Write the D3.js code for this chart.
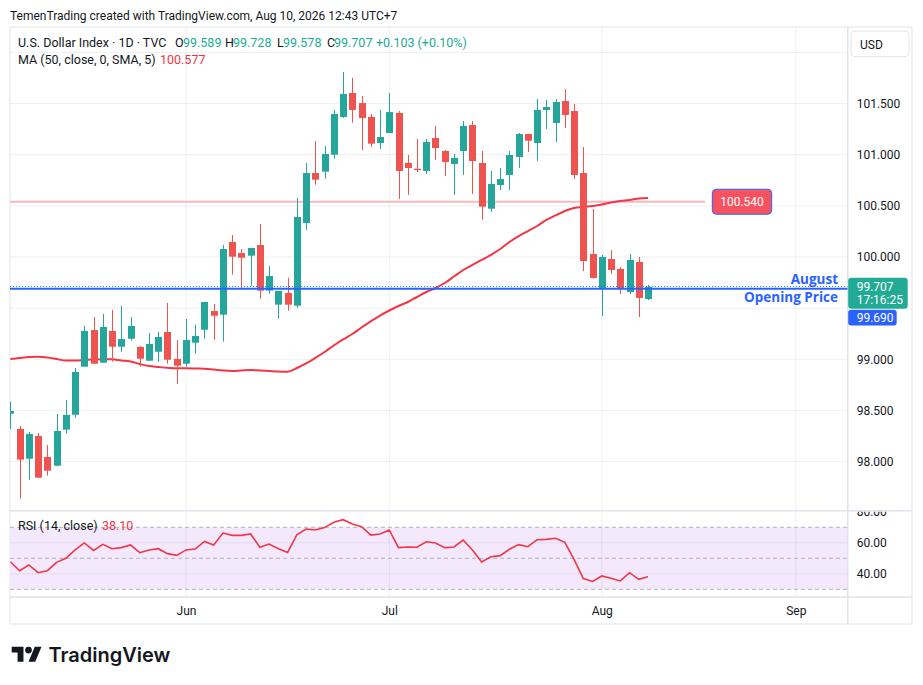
<!DOCTYPE html>
<html>
<head>
<meta charset="utf-8">
<script src="https://cdn.jsdelivr.net/npm/d3@7"></script>
<style>
  html, body { margin: 0; padding: 0; background: #fff; }
  svg { display: block; font-family: Roboto, "Noto Sans", sans-serif; }
</style>
</head>
<body>
<svg id="chart" width="923" height="685"></svg>
<script>
// daily bars, first visible bar = index 0, last bar (Aug 10) = index 69
const opens  = [98.468,98.319,98.028,98.250,98.045,97.960,98.312,98.458,98.928,99.286,
                98.967,99.277,99.123,99.201,99.120,98.986,99.074,99.267,99.003,98.957,
                99.162,99.289,99.472,99.436,100.147,100.039,100.013,100.117,99.671,99.534,
                99.648,99.524,100.332,100.821,100.834,101.000,101.369,101.603,101.505,101.369,
                101.114,101.212,101.408,100.919,100.863,100.841,101.163,101.036,100.909,101.036,
                101.290,100.919,100.472,100.704,100.802,100.978,101.202,101.114,101.437,101.310,
                101.525,101.427,100.821,100.029,99.697,99.980,99.883,99.658,99.951,99.589];
const highs  = [98.586,98.348,98.289,98.280,98.162,98.465,98.602,98.915,99.326,99.413,
                99.443,99.482,99.521,99.413,99.130,99.257,99.267,99.550,99.189,99.394,
                99.338,99.562,99.541,100.117,100.215,100.078,100.090,100.323,99.912,99.670,
                99.798,100.577,100.919,101.134,101.085,101.437,101.808,101.750,101.574,101.398,
                101.437,101.603,101.427,100.997,101.153,101.153,101.281,101.046,101.007,101.329,
                101.329,101.036,100.841,100.870,101.036,101.212,101.205,101.544,101.535,101.544,
                101.642,101.496,101.075,100.469,100.020,100.068,99.902,100.029,100.000,99.728];
const lows   = [98.319,97.637,97.823,97.838,97.862,97.955,98.273,98.429,98.925,98.955,
                98.965,98.977,99.074,99.182,98.928,98.984,98.977,98.957,98.761,98.928,
                99.055,99.201,99.192,99.172,99.827,99.697,99.719,99.592,99.641,99.397,
                99.475,99.504,100.264,100.707,100.765,100.961,101.359,101.313,101.046,101.075,
                101.056,101.210,100.567,100.606,100.831,100.811,100.948,100.792,100.606,100.802,
                100.616,100.365,100.443,100.655,100.655,100.870,101.026,100.938,101.251,101.124,
                101.261,100.762,99.863,99.790,99.423,99.834,99.638,99.638,99.413,99.578];
const closes = [98.495,98.019,98.270,97.843,97.911,98.299,98.456,98.876,99.277,98.957,
                99.316,99.123,99.198,99.326,99.006,99.150,99.218,98.996,98.937,99.189,
                99.228,99.560,99.426,100.078,100.003,99.993,100.088,99.671,99.814,99.668,
                99.534,100.391,100.821,100.756,101.007,101.398,101.593,101.437,101.359,101.108,
                101.173,101.417,100.841,100.870,100.850,101.124,101.065,100.929,100.968,101.281,
                100.938,100.492,100.714,100.762,100.997,101.202,101.137,101.437,101.466,101.515,
                101.388,100.802,99.961,99.795,100.000,99.873,99.687,99.971,99.599,99.707];

// MA (50, close)
const ma50 = [99.003,99.013,99.022,99.025,99.018,99.003,98.988,98.988,98.993,98.998,
              99.000,99.000,98.988,98.979,98.954,98.934,98.925,98.917,98.912,98.912,
              98.910,98.908,98.900,98.891,98.886,98.891,98.895,98.891,98.886,98.881,
              98.879,98.915,98.959,99.013,99.071,99.135,99.194,99.247,99.311,99.370,
              99.428,99.477,99.521,99.560,99.609,99.658,99.697,99.746,99.809,99.873,
              99.922,99.971,100.020,100.078,100.147,100.205,100.254,100.303,100.362,100.406,
              100.450,100.479,100.489,100.499,100.513,100.533,100.547,100.557,100.572,100.577];

// RSI (14, close)
const rsi14 = [47.8,42.0,45.7,40.7,42.0,47.4,50.0,55.4,59.9,55.1,
               59.0,56.2,56.9,58.6,53.6,55.4,56.2,53.0,51.9,55.4,
               56.0,60.9,58.6,66.3,64.8,64.8,65.7,57.1,59.2,56.2,
               53.8,65.2,68.9,68.3,69.8,73.2,74.9,72.1,70.4,65.0,
               65.7,68.3,56.9,57.3,57.1,60.7,59.9,56.9,57.3,61.8,
               55.4,47.6,51.0,51.7,55.8,58.8,57.5,62.0,62.2,62.9,
               60.3,49.3,36.9,35.1,38.6,37.1,35.4,40.7,36.4,38.1];

const monthTicks  = [19, 41, 64, 85];
const monthLabels = ["Jun", "Jul", "Aug", "Sep"];
const priceTicks  = [98, 98.5, 99, 100, 100.5, 101, 101.5];
const priceGrid   = [98, 98.5, 99, 99.5, 100, 100.5, 101, 101.5, 102];
const rsiTicks    = [80, 60, 40];
const rsiGrid     = [60, 40];
const rsiBands    = [70, 50, 30];

const resistance  = 100.540;   // horizontal line
const augustOpen  = 99.690;    // August opening price

const UP = "#26a69a", DOWN = "#ef5350", TEXT = "#131722", BORDER = "#e0e3eb", GRID = "rgba(42,46,57,0.07)";

const L = 10, R = 847.7, RIGHT = 912, TOP = 27, PB = 510.7, RB = 597, BOT = 624;

const svg = d3.select("#chart");

const x  = d3.scaleLinear().domain([0, 69]).range([10.4, 648]);
const y  = d3.scaleLinear().domain([98, 101.5]).range([461.6, 103.55]);
const yr = d3.scaleLinear().domain([30, 70]).range([589.3, 527.3]);

// header
svg.append("text").attr("x", 10).attr("y", 19.5)
  .attr("font-size", 12).attr("fill", TEXT)
  .text("TemenTrading created with TradingView.com, Aug 10, 2026 12:43 UTC+7");

// frame
svg.append("rect").attr("x", L).attr("y", TOP).attr("width", RIGHT - L).attr("height", BOT - TOP)
  .attr("fill", "#fff").attr("stroke", BORDER);

const defs = svg.append("defs");
defs.append("clipPath").attr("id", "pricePane")
  .append("rect").attr("x", L).attr("y", TOP).attr("width", R - L).attr("height", PB - TOP);
defs.append("clipPath").attr("id", "rsiAxis")
  .append("rect").attr("x", R).attr("y", PB + 1).attr("width", RIGHT - R).attr("height", RB - PB - 1);

// RSI band
svg.append("rect").attr("x", L).attr("width", R - L)
  .attr("y", yr(70)).attr("height", yr(30) - yr(70))
  .attr("fill", "#f3e8fc");

// grid
svg.append("g").selectAll("line").data(priceGrid).join("line")
  .attr("x1", L).attr("x2", R).attr("y1", d => y(d)).attr("y2", d => y(d))
  .attr("stroke", GRID).attr("clip-path", "url(#pricePane)");
svg.append("g").selectAll("line").data(rsiGrid).join("line")
  .attr("x1", L).attr("x2", R).attr("y1", d => yr(d)).attr("y2", d => yr(d))
  .attr("stroke", GRID);
svg.append("g").selectAll("line").data(monthTicks).join("line")
  .attr("x1", d => x(d)).attr("x2", d => x(d)).attr("y1", TOP).attr("y2", RB)
  .attr("stroke", GRID);

svg.append("g").selectAll("line").data(rsiBands).join("line")
  .attr("x1", L).attr("x2", R).attr("y1", d => yr(d)).attr("y2", d => yr(d))
  .attr("stroke", "#b2b5be").attr("stroke-dasharray", "4,3");

// panes separators
svg.append("line").attr("x1", L).attr("x2", RIGHT).attr("y1", PB).attr("y2", PB).attr("stroke", BORDER).attr("stroke-width", 1.5);
svg.append("line").attr("x1", L).attr("x2", RIGHT).attr("y1", RB).attr("y2", RB).attr("stroke", BORDER).attr("stroke-width", 1.5);
svg.append("line").attr("x1", R).attr("x2", R).attr("y1", TOP).attr("y2", BOT).attr("stroke", BORDER).attr("stroke-width", 1.5);

const plot = svg.append("g").attr("clip-path", "url(#pricePane)");

// resistance line
plot.append("line").attr("x1", L).attr("x2", 705).attr("y1", y(resistance)).attr("y2", y(resistance))
  .attr("stroke", "#f7b9bd").attr("stroke-width", 2);

// MA line
plot.append("path").datum(ma50)
  .attr("fill", "none").attr("stroke", "#f23645").attr("stroke-width", 2)
  .attr("d", d3.line().x((d, i) => x(i)).y(d => y(d)).curve(d3.curveMonotoneX));

// candles
const bars = d3.range(opens.length).map(i => ({ i, o: opens[i], h: highs[i], l: lows[i], c: closes[i] }));
const cg = plot.append("g").selectAll("g").data(bars).join("g");
cg.append("line")
  .attr("x1", d => Math.round(x(d.i)) + 0.5).attr("x2", d => Math.round(x(d.i)) + 0.5)
  .attr("y1", d => y(d.h)).attr("y2", d => y(d.l))
  .attr("stroke", d => d.c >= d.o ? UP : DOWN).attr("stroke-width", 1);
cg.append("rect")
  .attr("x", d => Math.round(x(d.i)) - 3).attr("width", 7)
  .attr("y", d => y(Math.max(d.o, d.c)))
  .attr("height", d => Math.max(1, Math.abs(y(d.o) - y(d.c))))
  .attr("fill", d => d.c >= d.o ? UP : DOWN);

// August opening price line + last price line
plot.append("line").attr("x1", L).attr("x2", R).attr("y1", y(augustOpen)).attr("y2", y(augustOpen))
  .attr("stroke", "#2962ff").attr("stroke-width", 2);
plot.append("line").attr("x1", L).attr("x2", R)
  .attr("y1", y(closes[69]) - 0.5).attr("y2", y(closes[69]) - 0.5)
  .attr("stroke", "#1e88e5").attr("stroke-dasharray", "1,2");

svg.append("text").attr("x", 838).attr("y", y(augustOpen) - 4.5).attr("text-anchor", "end")
  .attr("font-family", "'Open Sans', Roboto, sans-serif")
  .attr("font-size", 13.5).attr("font-weight", 700).attr("fill", "#2962ff").text("August");
svg.append("text").attr("x", 838).attr("y", y(augustOpen) + 13).attr("text-anchor", "end")
  .attr("font-family", "'Open Sans', Roboto, sans-serif")
  .attr("font-size", 13.5).attr("font-weight", 700).attr("fill", "#2962ff").text("Opening Price");

// RSI line
svg.append("path").datum(rsi14)
  .attr("fill", "none").attr("stroke", "#f23645").attr("stroke-width", 1.6)
  .attr("d", d3.line().x((d, i) => x(i)).y(d => yr(d)));

// axes
const pAxis = svg.append("g").attr("transform", `translate(${R},0)`)
  .call(d3.axisRight(y).tickValues(priceTicks).tickFormat(d3.format(".3f")).tickSize(0).tickPadding(9));
const rAxis = svg.append("g").attr("clip-path", "url(#rsiAxis)")
  .append("g").attr("transform", `translate(${R},0)`)
  .call(d3.axisRight(yr).tickValues(rsiTicks).tickFormat(d3.format(".2f")).tickSize(0).tickPadding(9));
const tAxis = svg.append("g").attr("transform", `translate(0,${RB})`)
  .call(d3.axisBottom(x).tickValues(monthTicks).tickFormat((d, i) => monthLabels[i]).tickSize(0).tickPadding(9));
[pAxis, rAxis, tAxis].forEach(a => {
  a.select(".domain").remove();
  a.selectAll("text").attr("font-family", "Roboto, 'Noto Sans', sans-serif")
    .attr("font-size", 12).attr("fill", TEXT);
});

// price axis tags
function tag(x0, y0, w, h, fill, lines) {
  const g = svg.append("g");
  g.append("rect").attr("x", x0).attr("y", y0).attr("width", w).attr("height", h)
    .attr("rx", 3).attr("fill", fill);
  lines.forEach((t, k) => {
    g.append("text").attr("x", x0 + 8.5).attr("y", y0 + 13 + k * 13.5)
      .attr("font-size", 12).attr("fill", "#fff").text(t);
  });
  return g;
}
const lastY = y(closes[69]);
tag(R + 0.5, lastY - 9.3, 59.5, 31, "#22ab94", [d3.format(".3f")(closes[69]), "17:16:25"]);
tag(R + 0.5, y(augustOpen) + 21, 48.5, 15.7, "#2962ff", [d3.format(".3f")(augustOpen)])
  .select("text").attr("y", y(augustOpen) + 33);

// resistance tag on chart
const rt = svg.append("g");
rt.append("rect").attr("x", 712.3).attr("y", y(resistance) - 12.5).attr("width", 59.4).attr("height", 25)
  .attr("rx", 4).attr("fill", "#f7525f").attr("stroke", "#2962ff");
rt.append("text").attr("x", 742).attr("y", y(resistance) + 4.3).attr("text-anchor", "middle")
  .attr("font-size", 12).attr("fill", "#fff").text(d3.format(".3f")(resistance));

// USD button
svg.append("rect").attr("x", 851).attr("y", 31).attr("width", 58).attr("height", 25.7)
  .attr("rx", 4).attr("fill", "#fff").attr("stroke", BORDER);
svg.append("text").attr("x", 860).attr("y", 48.5).attr("font-size", 12).attr("fill", TEXT).text("USD");

// legends
const lg = svg.append("g").attr("font-size", 12.5);
const GREEN_TXT = "#22ab94";
[
  { x: 18,  t: "U.S. Dollar Index · 1D · TVC", c: TEXT },
  { x: 175, t: "O", c: TEXT }, { x: 183, t: d3.format(".3f")(opens[69]), c: GREEN_TXT },
  { x: 225, t: "H", c: TEXT }, { x: 233, t: d3.format(".3f")(highs[69]), c: GREEN_TXT },
  { x: 277, t: "L", c: TEXT }, { x: 283, t: d3.format(".3f")(lows[69]), c: GREEN_TXT },
  { x: 327, t: "C", c: TEXT }, { x: 334, t: d3.format(".3f")(closes[69]), c: GREEN_TXT },
  { x: 376, t: "+0.103 (+0.10%)", c: GREEN_TXT }
].forEach(d => lg.append("text").attr("x", d.x).attr("y", 46.8).attr("fill", d.c).text(d.t));
lg.append("text").attr("x", 18).attr("y", 63.8).attr("fill", TEXT).text("MA (50, close, 0, SMA, 5)");
lg.append("text").attr("x", 160).attr("y", 63.8).attr("fill", "#f23645").text(d3.format(".3f")(ma50[69]));
lg.append("text").attr("x", 18).attr("y", 530).attr("fill", TEXT).text("RSI (14, close)");
lg.append("text").attr("x", 102).attr("y", 530).attr("fill", "#f23645").text(d3.format(".2f")(rsi14[69]));

// TradingView logo
const logo = svg.append("g").attr("transform", "translate(11.7,643.3) scale(0.84)").attr("fill", TEXT);
logo.append("path").attr("d", "M14 22H7V11H0V4h14v18zM28 22h-8l7.5-18h8L28 22z");
logo.append("circle").attr("cx", 20).attr("cy", 8).attr("r", 4);
svg.append("text").attr("x", 48.5).attr("y", 662).attr("font-family", "Inter, Roboto, sans-serif")
  .attr("font-size", 20).attr("font-weight", 600).attr("fill", TEXT).text("TradingView");
</script>
</body>
</html>
